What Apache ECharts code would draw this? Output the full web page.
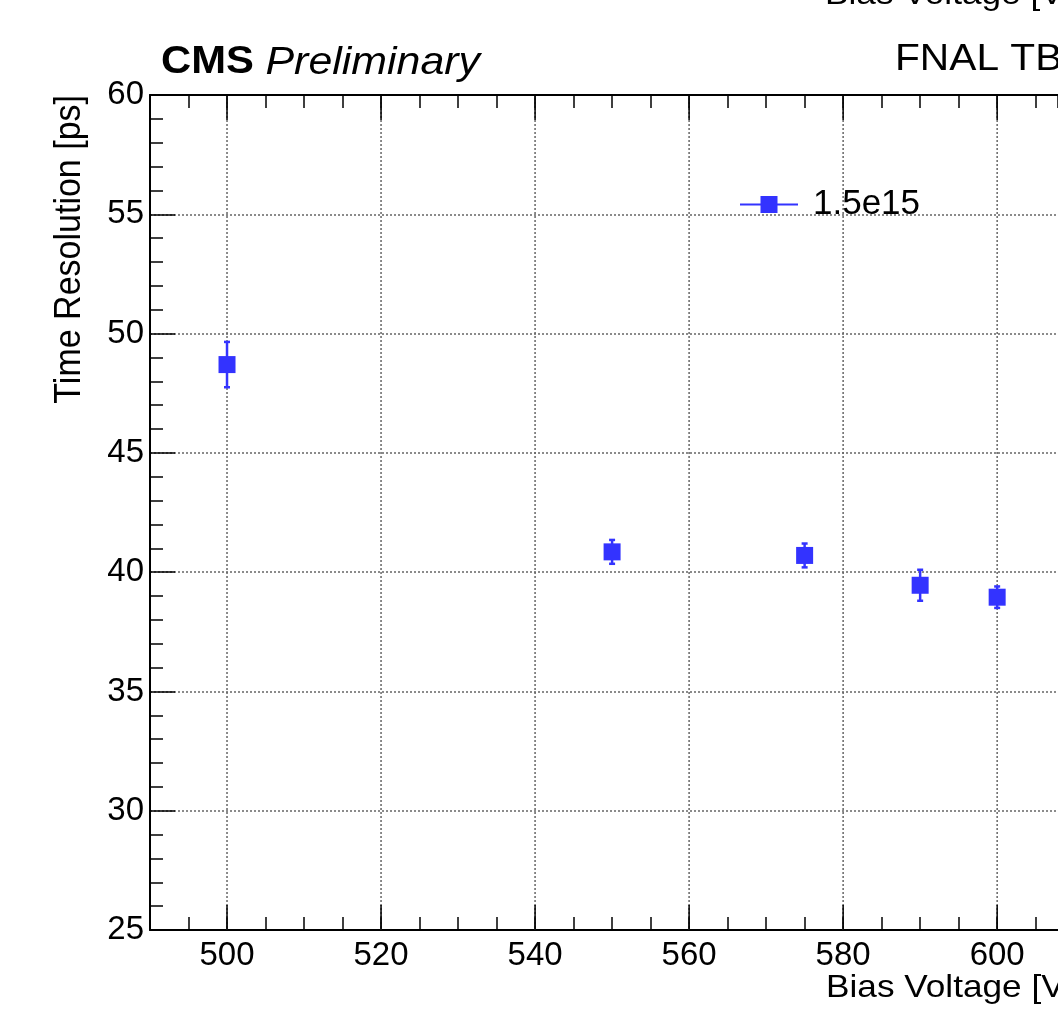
<!DOCTYPE html>
<html lang="en" style="height: 100%">
<head>
    <meta charset="utf-8"/>
    <meta name="viewport" content="width=device-width, initial-scale=1.0"/>
</head>
<body style="height: 100%; margin: 0; overflow: hidden; background: #fff">
<div id="container" style="height: 100%"></div>

<script type="text/javascript" src="https://cdn.jsdelivr.net/npm/echarts@6/dist/echarts.min.js"></script>

<script type="text/javascript">
    // measured points (bias voltage in V, time resolution in ps)
    var voltage = [500, 550, 575, 590, 600];
    var resolution = [48.7, 40.85, 40.7, 39.45, 38.95];
    var resolutionErr = [0.95, 0.5, 0.5, 0.65, 0.45];
    var seriesName = "1.5e15";

    // axis ranges and tick values (the picture is cut a bit past 600 V)
    var xMin = 490, xMax = 607.9;
    var yMin = 25, yMax = 60;
    var xMajorTicks = [500, 520, 540, 560, 580, 600];

    var FONT = "Liberation Sans, Arial, Helvetica, sans-serif";
    var BLUE = "#3333ff";
    var GRID_COLOR = "#666";

    var dom = document.getElementById("container");
    var myChart = echarts.init(dom, null, {renderer: "canvas"});

    var points = voltage.map(function (v, i) {
        return [v, resolution[i]];
    });
    var errData = voltage.map(function (v, i) {
        return [v, resolution[i], resolutionErr[i]];
    });

    var option = {
        animation: false,
        backgroundColor: "#fff",
        textStyle: {fontFamily: FONT},
        grid: {left: 150, top: 95, bottom: 81, right: 0, outerBoundsMode: "none", containLabel: false},
        legend: {
            left: 735,
            top: 182,
            itemWidth: 58,
            itemHeight: 17,
            selectedMode: false,
            data: [{
                name: seriesName,
                icon: "path://M0,7.5H58V9.5H0Z M20.5,0H37.5V17H20.5Z"
            }],
            textStyle: {fontSize: 35, color: "#000", fontFamily: FONT, padding: [0, 0, 0, 10]}
        },
        xAxis: [
            {
                type: "value",
                position: "bottom",
                min: xMin,
                max: xMax,
                interval: 5,
                axisLine: {show: true, onZero: false, lineStyle: {color: "#000", width: 2}},
                axisTick: {show: true, inside: true, length: 13, lineStyle: {color: "#000", width: 1.5}},
                axisLabel: {
                    fontSize: 33,
                    color: "#000",
                    margin: 9,
                    fontFamily: FONT,
                    showMaxLabel: false,
                    formatter: function (v) {
                        return xMajorTicks.indexOf(v) >= 0 ? String(v) : "";
                    }
                },
                splitLine: {show: false}
            },
            {
                type: "value",
                position: "top",
                min: xMin,
                max: xMax,
                interval: 5,
                axisLine: {show: true, onZero: false, lineStyle: {color: "#000", width: 2}},
                axisTick: {show: true, inside: true, length: 13, lineStyle: {color: "#000", width: 1.5}},
                axisLabel: {show: false},
                splitLine: {show: false}
            }
        ],
        yAxis: {
            type: "value",
            min: yMin,
            max: yMax,
            interval: 5,
            axisLine: {show: true, onZero: false, lineStyle: {color: "#000", width: 2}},
            axisTick: {show: true, inside: true, length: 25, lineStyle: {color: "#000", width: 1.5}},
            minorTick: {show: true, splitNumber: 5, length: 13, lineStyle: {color: "#000", width: 1.5}},
            axisLabel: {fontSize: 33, color: "#000", margin: 6, fontFamily: FONT},
            splitLine: {show: true, lineStyle: {color: GRID_COLOR, width: 1.5, type: [2, 2]}}
        },
        graphic: [
            {
                type: "text", x: 161, y: 63, scaleX: 1.1, silent: true,
                style: {
                    text: "{b|CMS }{i|Preliminary}",
                    verticalAlign: "middle",
                    rich: {
                        b: {fontSize: 38, fontWeight: "bold", fontFamily: FONT, fill: "#000"},
                        i: {fontSize: 39, fontStyle: "italic", fontFamily: FONT, fill: "#000"}
                    }
                }
            },
            {
                type: "text", x: 895, y: 60, scaleX: 1.1, silent: true,
                style: {text: "FNAL TB", fontSize: 37, fontFamily: FONT, fill: "#000", verticalAlign: "middle"}
            },
            {
                // bottom edge of the pad above, cut by the frame
                type: "text", x: 825, y: -5, scaleX: 1.1, silent: true,
                style: {text: "Bias Voltage [V]", fontSize: 32, fontFamily: FONT, fill: "#000", verticalAlign: "middle"}
            },
            {
                type: "text", x: 826, y: 988, scaleX: 1.1, silent: true,
                style: {text: "Bias Voltage [V]", fontSize: 32, fontFamily: FONT, fill: "#000", verticalAlign: "middle"}
            },
            {
                type: "text", x: 70, y: 95, rotation: Math.PI / 2, scaleY: 1.1, silent: true,
                style: {
                    text: "Time Resolution [ps]", fontSize: 34, fontFamily: FONT, fill: "#000",
                    align: "right", verticalAlign: "middle"
                }
            }
        ],
        series: [
            {
                // dotted vertical grid + long ticks at the labelled voltages
                name: "xgrid",
                type: "custom",
                silent: true,
                z: 1,
                xAxisIndex: 0,
                data: xMajorTicks.map(function (v) { return [v]; }),
                renderItem: function (params, api) {
                    var v = api.value(0);
                    var bot = api.coord([v, yMin]);
                    var top = api.coord([v, yMax]);
                    return {
                        type: "group",
                        children: [
                            {
                                type: "line",
                                shape: {x1: bot[0], y1: bot[1], x2: top[0], y2: top[1]},
                                style: {stroke: GRID_COLOR, lineWidth: 1.5, lineDash: [2, 2]}
                            },
                            {
                                type: "line",
                                shape: {x1: bot[0], y1: bot[1], x2: bot[0], y2: bot[1] - 25},
                                style: {stroke: "#000", lineWidth: 1.5}
                            },
                            {
                                type: "line",
                                shape: {x1: top[0], y1: top[1], x2: top[0], y2: top[1] + 25},
                                style: {stroke: "#000", lineWidth: 1.5}
                            }
                        ]
                    };
                }
            },
            {
                name: "errors",
                type: "custom",
                silent: true,
                z: 3,
                data: errData,
                renderItem: function (params, api) {
                    var x = api.value(0), y = api.value(1), e = api.value(2);
                    var hi = api.coord([x, y + e]);
                    var lo = api.coord([x, y - e]);
                    var s = {stroke: BLUE, lineWidth: 2.5};
                    return {
                        type: "group",
                        children: [
                            {type: "line", shape: {x1: hi[0], y1: hi[1], x2: lo[0], y2: lo[1]}, style: s},
                            {type: "line", shape: {x1: hi[0] - 3, y1: hi[1], x2: hi[0] + 3, y2: hi[1]}, style: s},
                            {type: "line", shape: {x1: lo[0] - 3, y1: lo[1], x2: lo[0] + 3, y2: lo[1]}, style: s}
                        ]
                    };
                }
            },
            {
                name: seriesName,
                type: "scatter",
                z: 4,
                symbol: "rect",
                symbolSize: 17,
                itemStyle: {color: BLUE, opacity: 1},
                data: points
            }
        ]
    };

    myChart.setOption(option);
    window.addEventListener("resize", myChart.resize);
</script>
</body>
</html>
